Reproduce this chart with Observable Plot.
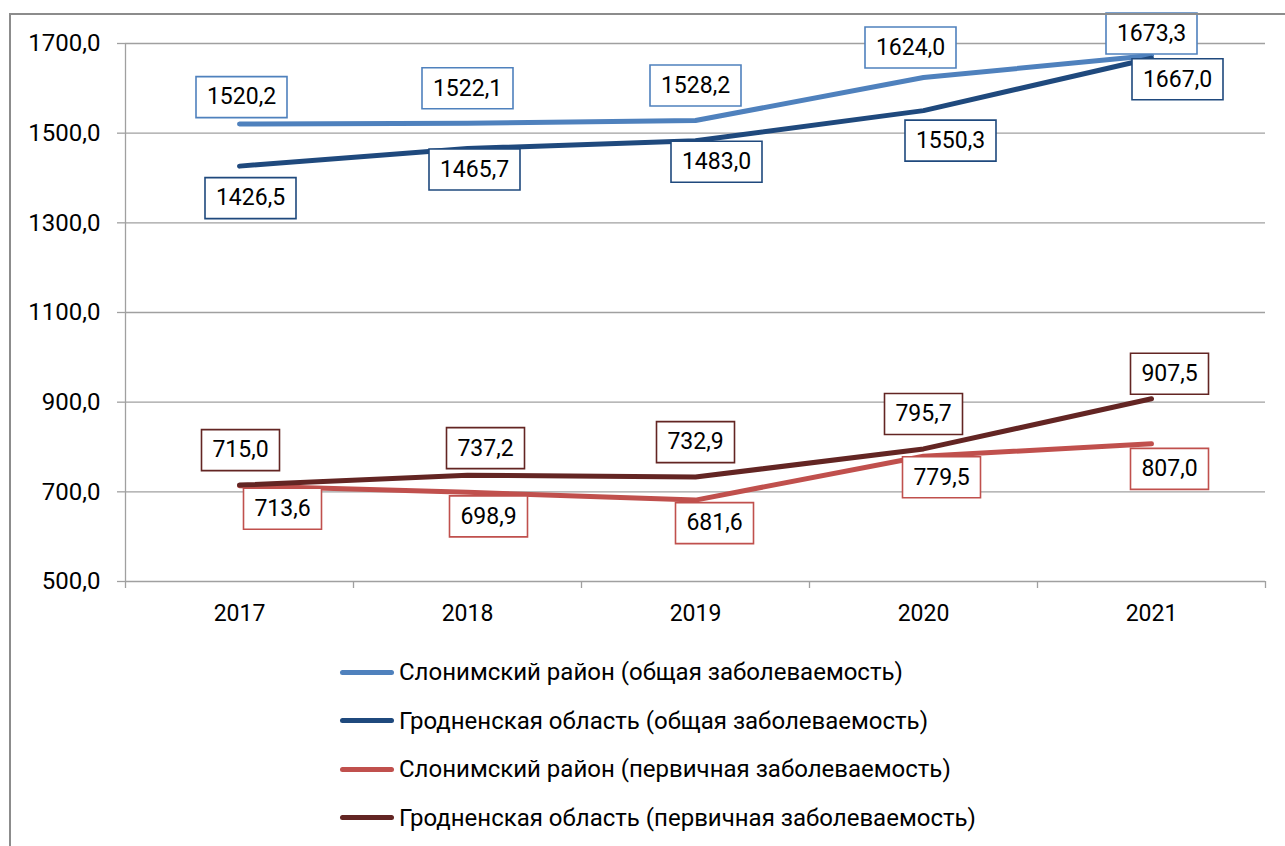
<!DOCTYPE html>
<html>
<head>
<meta charset="utf-8">
<script src="https://cdn.jsdelivr.net/npm/d3@7"></script>
<script src="https://cdn.jsdelivr.net/npm/@observablehq/plot@0.6"></script>
<style>
  html, body { margin: 0; padding: 0; background: #fff; overflow: hidden; width: 1285px; height: 846px; }
  #wrap { position: relative; width: 1285px; height: 846px; }
  #chart { position: absolute; left: 0; top: 0; }
  #frame { position: absolute; left: 9px; top: 13px; width: 1400px; height: 1000px; border: 2px solid #8c8c8c; box-sizing: border-box; pointer-events: none; }
  #legend { position: absolute; left: 340px; top: 648px; font-family: Roboto, sans-serif; font-size: 24px; color: #000; }
  .row { height: 48.5px; display: flex; align-items: center; }
  .sw { width: 54px; height: 5px; border-radius: 3px; margin-right: 5px; }
</style>
</head>
<body>
<div id="wrap">
  <div id="chart"></div>
  <div id="legend"></div>
  <div id="frame"></div>
</div>
<script>
// ---- data ----
const years = [2017, 2018, 2019, 2020, 2021];
const seriesNames = [
  "Слонимский район (общая заболеваемость)",
  "Гродненская область (общая заболеваемость)",
  "Слонимский район (первичная заболеваемость)",
  "Гродненская область (первичная заболеваемость)"
];
const slonimTotal   = [1520.2, 1522.1, 1528.2, 1624.0, 1673.3];
const grodnoTotal   = [1426.5, 1465.7, 1483.0, 1550.3, 1667.0];
const slonimPrimary = [713.6, 698.9, 681.6, 779.5, 807.0];
const grodnoPrimary = [715.0, 737.2, 732.9, 795.7, 907.5];
const yTicks = [500, 700, 900, 1100, 1300, 1500, 1700];

// ---- styles / layout ----
const seriesColors = ["#4F81BD", "#1F497D", "#C0504D", "#632523"];
// data-label nudges in pixels, per series, per year
const labelDx = [
  [2, 0, 0, -13, 0],
  [11, 7, 21, 27, 26],
  [43, 21, 19, 18, 18],
  [1, 18, 0, 0, 18]
];
const labelDy = [
  [-27, -35, -35, -30, -22],
  [32, 21, 21, 30, 21],
  [23, 24, 23, 21, 25],
  [-35, -27, -35, -35, -25]
];

const seriesValues = [slonimTotal, grodnoTotal, slonimPrimary, grodnoPrimary];
const rows = [];
seriesValues.forEach((vals, s) => vals.forEach((v, i) => rows.push({series: seriesNames[s], s, i, year: years[i], value: v})));

const fmt = v => v.toFixed(1).replace(".", ",");
const boxSymbol = (w, h) => ({draw(ctx) { ctx.rect(-w / 2, -h / 2, w, h); }});
const grey = "#a0a0a0";
const boundaries = years.map(y => y - 0.5).concat([years[years.length - 1] + 0.5]);

const marks = [
  Plot.gridY(yTicks, {stroke: grey, strokeOpacity: 1, strokeWidth: 1.3}),
  Plot.ruleX([boundaries[0]], {stroke: grey, strokeWidth: 1.3}),
  Plot.axisY(yTicks, {label: null, tickSize: 8, tickPadding: 17, stroke: grey, strokeWidth: 1.3, fill: "black", fontSize: 24, tickFormat: fmt}),
  Plot.axisX(boundaries, {label: null, tickSize: 7, tickPadding: 0, stroke: grey, strokeWidth: 1.3, tickFormat: () => ""}),
  Plot.axisX(years, {label: null, tickSize: 0, tickPadding: 23, fill: "black", fontSize: 23, tickFormat: d => String(d)}),
  Plot.line(rows, {x: "year", y: "value", z: "series", stroke: "series", strokeWidth: 5, strokeLinecap: "round", strokeLinejoin: "round"})
];

rows.forEach(r => {
  const label = fmt(r.value);
  const w = label.length >= 6 ? 91 : 78;
  const dx = labelDx[r.s][r.i], dy = labelDy[r.s][r.i];
  marks.push(Plot.dot([r], {x: "year", y: "value", dx, dy, symbol: boxSymbol(w, 41), fill: "white", stroke: seriesColors[r.s], strokeWidth: 1.6}));
  marks.push(Plot.text([r], {x: "year", y: "value", dx, dy, text: d => fmt(d.value), fontSize: 23, fill: "black"}));
});

const chart = Plot.plot({
  width: 1285,
  height: 640,
  marginLeft: 125,
  marginRight: 20,
  marginTop: 43,
  marginBottom: 59,
  style: {fontFamily: "Roboto, sans-serif", fontSize: "22px", background: "none", color: "black"},
  x: {type: "linear", domain: [boundaries[0], boundaries[boundaries.length - 1]], axis: null},
  y: {domain: [500, 1700], axis: null},
  color: {domain: seriesNames, range: seriesColors},
  marks
});
document.getElementById("chart").appendChild(chart);

const legend = document.getElementById("legend");
seriesNames.forEach((name, s) => {
  const row = document.createElement("div");
  row.className = "row";
  const sw = document.createElement("div");
  sw.className = "sw";
  sw.style.background = seriesColors[s];
  const t = document.createElement("span");
  t.textContent = name;
  row.appendChild(sw);
  row.appendChild(t);
  legend.appendChild(row);
});
</script>
</body>
</html>
